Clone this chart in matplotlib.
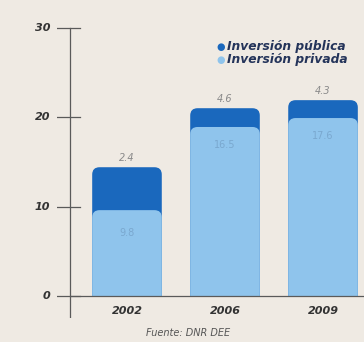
import matplotlib.pyplot as plt
from matplotlib.patches import FancyBboxPatch, Rectangle

# Datos (alturas)
years = ["2002", "2006", "2009"]
privada = [9.6, 18.9, 19.9]
publica = [4.8, 2.1, 2.0]
label_publica = ["2.4", "4.6", "4.3"]
label_privada = ["9.8", "16.5", "17.6"]
y_ticks = [0, 10, 20, 30]

bg = "#efeae3"
dark = "#1a68bd"
light = "#8fc4ec"

fig = plt.figure(figsize=(3.64, 3.42), dpi=100, facecolor=bg)
ax = fig.add_axes([0.1566, 0.0702, 0.8434, 0.9298])
ax.set_facecolor(bg)
ax.set_xlim(-0.714, 2.418)
ax.set_ylim(-2.46, 33.1)
ax.axis("off")

x = list(range(len(years)))
total = [p + q for p, q in zip(privada, publica)]
width = 0.71

# aspect to make rounded corners look round in pixels
px_per_x = 307 / (2.418 + 0.714)
px_per_y = 320 / (33.1 + 2.46)
asp = px_per_x / px_per_y

# bars sit square on the axis: clip everything below 0
clip = Rectangle((-1, 0), 5, 40, transform=ax.transData)

def rounded(bars, color, z):
    for b in bars:
        bx, by = b.get_x(), b.get_y()
        w, h = b.get_width(), b.get_height()
        b.remove()
        p = FancyBboxPatch((bx, by - 1), w, h + 1,
                           boxstyle="round,pad=0,rounding_size=0.075",
                           mutation_aspect=asp, fc=color, ec="none", zorder=z)
        ax.add_patch(p)
        p.set_clip_path(clip)

rounded(ax.bar(x, total, width=width), dark, 2)
rounded(ax.bar(x, privada, width=width), light, 3)

# axis lines
ax.plot([-0.582, -0.582], [-2.46, 30], color="#5a5a5a", lw=0.9, zorder=4)
ax.plot([-0.582, 2.418], [0, 0], color="#5a5a5a", lw=0.9, zorder=4)
for t in y_ticks:
    ax.plot([-0.714, -0.48], [t, t], color="#5a5a5a", lw=0.9, zorder=4)
    ax.text(-0.785, t, str(t), ha="right", va="center", fontsize=8,
            fontweight="bold", fontstyle="italic", color="#333333",
            clip_on=False)

for i, yr in enumerate(years):
    ax.text(i, -1.7, yr, ha="center", va="center", fontsize=8,
            fontweight="bold", fontstyle="italic", color="#333333")
    ax.text(i, total[i] + 0.5, label_publica[i], ha="center", va="bottom",
            fontsize=7, fontstyle="italic", color="#8a8a8a", zorder=5)
    ax.text(i, privada[i] - 2.5 if i == 0 else privada[i] - 2.0,
            label_privada[i], ha="center", va="center", fontsize=7,
            color="#7aa8cf", zorder=5)

# leyenda
fig.text(0.607, 0.863, "●", color=dark, fontsize=7, va="center", ha="center")
fig.text(0.624, 0.863, "Inversión pública", color="#24345a", fontsize=8.8,
         fontweight="bold", fontstyle="italic", va="center", ha="left")
fig.text(0.607, 0.825, "●", color=light, fontsize=7, va="center", ha="center")
fig.text(0.624, 0.825, "Inversión privada", color="#24345a", fontsize=8.8,
         fontweight="bold", fontstyle="italic", va="center", ha="left")

fig.text(0.517, 0.026, "Fuente: DNR DEE", ha="center", va="center",
         fontsize=7, fontstyle="italic", color="#555555")

fig.savefig("out.png", dpi=100, facecolor=bg)
